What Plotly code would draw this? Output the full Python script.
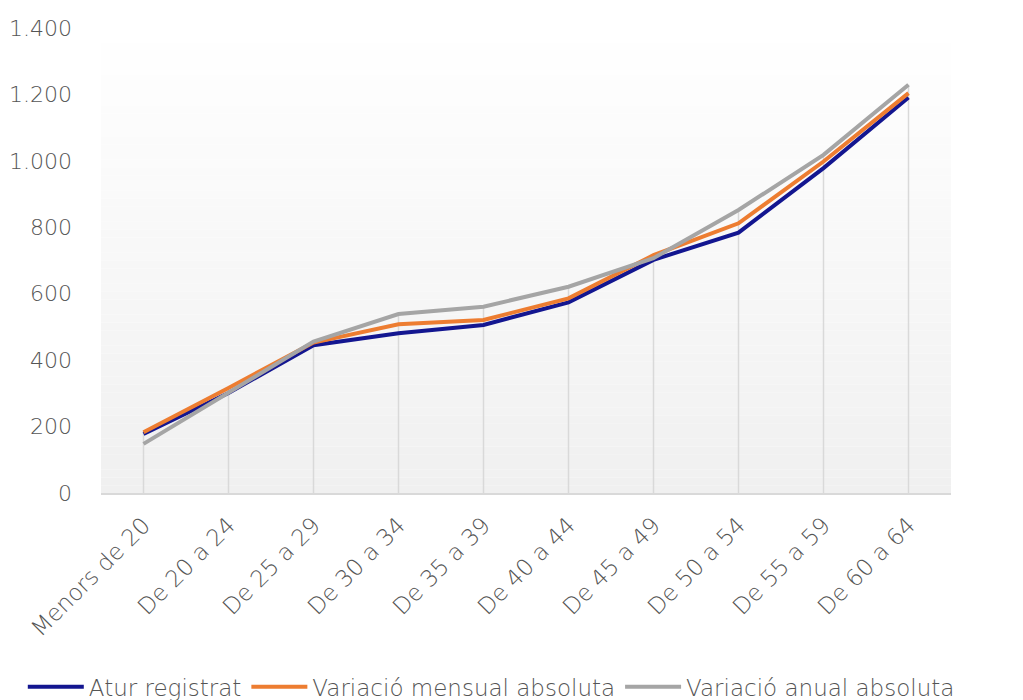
import plotly.graph_objects as go

categories = ["Menors de 20", "De 20 a 24", "De 25 a 29", "De 30 a 34", "De 35 a 39",
              "De 40 a 44", "De 45 a 49", "De 50 a 54", "De 55 a 59", "De 60 a 64"]
atur_registrat = [178, 301, 445, 481, 506, 574, 702, 784, 978, 1191]
variacio_mensual = [183, 316, 453, 508, 521, 586, 716, 812, 998, 1204]
variacio_anual = [148, 301, 456, 539, 561, 621, 707, 852, 1018, 1229]
y_ticks = [0, 200, 400, 600, 800, 1000, 1200, 1400]
y_tick_labels = ["0", "200", "400", "600", "800", "1.000", "1.200", "1.400"]

series = [
    ("Atur registrat", atur_registrat, "#131690"),
    ("Variació mensual absoluta", variacio_mensual, "#ED7D31"),
    ("Variació anual absoluta", variacio_anual, "#A5A5A5"),
]

FONT = "DejaVu Sans"
TXT = "#555555"
FS = 22

fig = go.Figure()

# drop lines (from axis to highest series at each category)
drop_x, drop_y = [], []
for i, c in enumerate(categories):
    top = max(s[1][i] for s in series)
    drop_x += [c, c, None]
    drop_y += [0, top, None]
fig.add_trace(go.Scatter(x=drop_x, y=drop_y, mode="lines",
                         line=dict(color="#D9D9D9", width=1.5),
                         showlegend=False, hoverinfo="skip"))

for name, vals, color in series:
    fig.add_trace(go.Scatter(x=categories, y=vals, mode="lines", name=name,
                             line=dict(color=color, width=4)))

# gradient background for plot area
n = 60
shapes = []
for k in range(n):
    t = k / (n - 1)
    v = int(round(255 - (255 - 240) * t))
    col = f"rgb({v},{v},{v})"
    shapes.append(dict(type="rect", xref="paper", yref="paper",
                       x0=0, x1=1, y0=1 - (k + 1) / n, y1=1 - k / n,
                       fillcolor=col, line=dict(width=0), layer="below"))

# page body has an 8px margin, so the figure is 8px smaller and offset
fig.update_layout(
    width=1015, height=692,
    margin=dict(l=93, r=72, t=20, b=207, autoexpand=False),
    paper_bgcolor="white", plot_bgcolor="white",
    shapes=shapes,
    font=dict(family=FONT, size=FS, color=TXT, weight=300),
    xaxis=dict(type="category", range=[-0.5, 9.5], tickangle=-45,
               showgrid=False, zeroline=False, showline=True, automargin=False,
               linecolor="#D9D9D9", linewidth=1.5, ticks="",
               ticklabelstandoff=8,
               tickfont=dict(family=FONT, size=FS + 1, color=TXT, weight=300)),
    yaxis=dict(range=[0, 1400], tickvals=y_ticks, ticktext=y_tick_labels,
               showgrid=False, zeroline=False, showline=False, ticks="",
               ticklabelstandoff=28, automargin=False,
               tickfont=dict(family=FONT, size=FS, color=TXT, weight=300)),
    legend=dict(orientation="h", x=-0.092, xanchor="left", y=-0.417, yanchor="middle",
                font=dict(family=FONT, size=FS + 1, color=TXT, weight=300),
                bgcolor="rgba(0,0,0,0)", itemwidth=56),
    showlegend=True,
)

fig.write_html("out.html")
